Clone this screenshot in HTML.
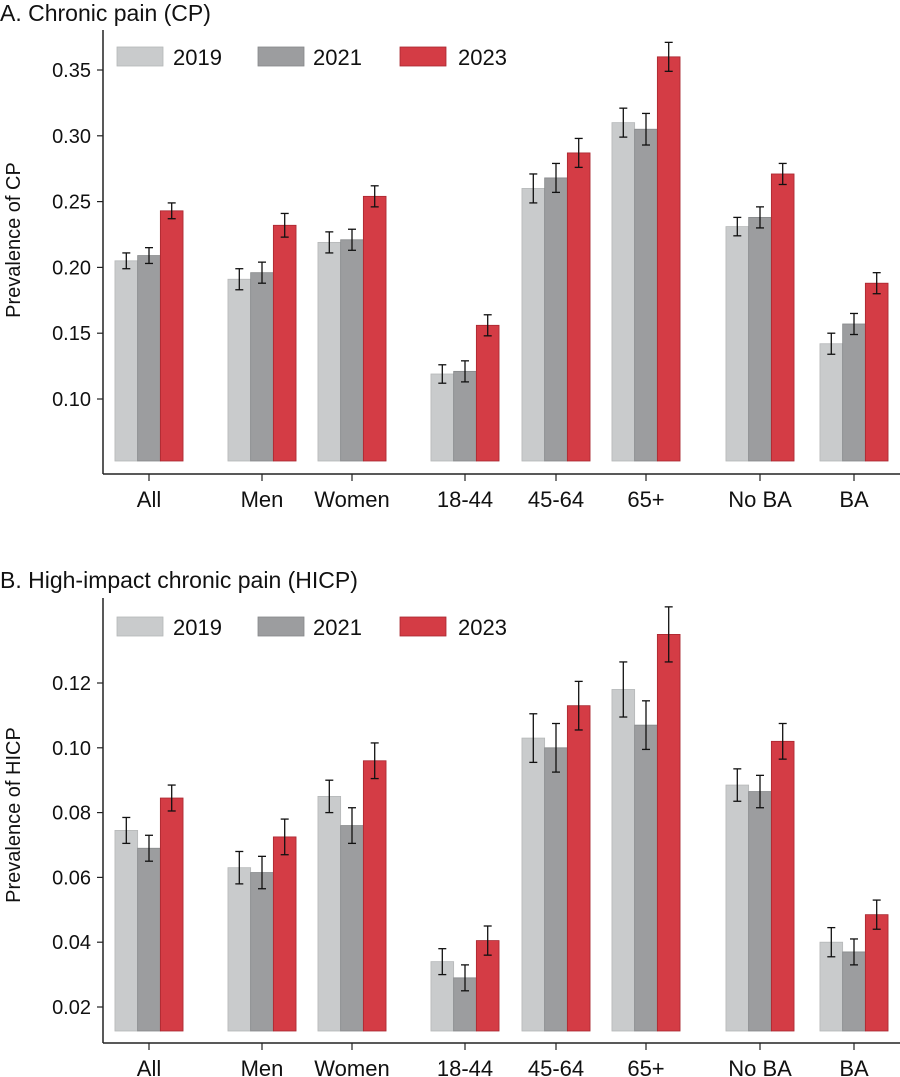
<!DOCTYPE html>
<html><head><meta charset="utf-8"><style>
body{margin:0;background:#fff}
svg{display:block;font-family:"Liberation Sans",Arial,sans-serif}
</style></head><body>
<svg id="chart" width="900" height="1077"></svg>
<script>
const categories=["All","Men","Women","18-44","45-64","65+","No BA","BA"];
const years=["2019","2021","2023"];
const cpValues=[[.205,.191,.219,.119,.260,.310,.231,.142],[.209,.196,.221,.121,.268,.305,.238,.157],[.243,.232,.254,.156,.287,.360,.271,.188]];
const cpErrors=[[.006,.008,.008,.007,.011,.011,.007,.008],[.006,.008,.008,.008,.011,.012,.008,.008],[.006,.009,.008,.008,.011,.011,.008,.008]];
const hicpValues=[[.0745,.063,.085,.034,.103,.118,.0885,.040],[.069,.0615,.076,.029,.100,.107,.0865,.037],[.0845,.0725,.096,.0405,.113,.135,.102,.0485]];
const hicpErrors=[[.004,.005,.005,.004,.0075,.0085,.005,.0045],[.004,.005,.0055,.004,.0075,.0075,.005,.004],[.004,.0055,.0055,.0045,.0075,.0085,.0055,.0045]];
const cpTicks=[0.10,0.15,0.20,0.25,0.30,0.35];
const hicpTicks=[0.02,0.04,0.06,0.08,0.10,0.12];
const groupCenters=[149,262,352,465,556,646,760,854];
const NS="http://www.w3.org/2000/svg";
const svg=document.getElementById('chart');
const fills=["#c9cbcc","#9c9d9f","#d43c45"];
const strokes=["#b5b7b8","#86888a","#a8262f"];
function mk(t,a,p){const e=document.createElementNS(NS,t);for(const k in a)e.setAttribute(k,a[k]);(p||svg).appendChild(e);return e;}
function panel(cfg){
  const g=mk('g',{});
  
  
  const y=v=>cfg.y0-(v-cfg.v0)*cfg.scale;
  const t=mk('text',{x:0,y:cfg.titleY,'font-size':23,fill:'#111'},g);t.textContent=cfg.title;
  
  mk('line',{x1:103,x2:103,y1:cfg.axTop,y2:cfg.axisY,stroke:'#222','stroke-width':1.5},g);
  mk('line',{x1:103,x2:900,y1:cfg.axisY,y2:cfg.axisY,stroke:'#222','stroke-width':1.5},g);
  cfg.ticks.forEach(v=>{
    mk('line',{x1:97,x2:103,y1:y(v),y2:y(v),stroke:'#222','stroke-width':1.2},g);
    const l=mk('text',{x:91,y:y(v)+7,'font-size':20,'text-anchor':'end',fill:'#111'},g);l.textContent=v.toFixed(2);
    
  });
  const yt=mk('text',{x:0,y:0,'font-size':20,'text-anchor':'middle',fill:'#111',transform:`translate(20,${cfg.ylabY}) rotate(-90)`},g);yt.textContent=cfg.ylab;
  
  const bw=22.7;
  categories.forEach((c,i)=>{
    const cx=groupCenters[i];
    mk('line',{x1:cx,x2:cx,y1:cfg.axisY,y2:cfg.axisY+7,stroke:'#222','stroke-width':1.2},g);
    const l=mk('text',{x:cx,y:cfg.axisY+33,'font-size':22,'text-anchor':'middle',fill:'#111'},g);l.textContent=c;
    
    for(let s=0;s<3;s++){
      const v=cfg.vals[s][i],e=cfg.errs[s][i];
      const x=cx-1.5*bw+s*bw;
      const b=mk('rect',{x:x,y:y(v),width:bw,height:cfg.barBottom-y(v),fill:fills[s],stroke:strokes[s],'stroke-width':0.8},g);
      
      const m=x+bw/2;
      mk('line',{x1:m,x2:m,y1:y(v+e),y2:y(v-e),stroke:'#111','stroke-width':1.3},g);
      mk('line',{x1:m-4,x2:m+4,y1:y(v+e),y2:y(v+e),stroke:'#111','stroke-width':1.3},g);
      mk('line',{x1:m-4,x2:m+4,y1:y(v-e),y2:y(v-e),stroke:'#111','stroke-width':1.3},g);
    }
  });
  const lx=[117,258,400],tx=[173,313,458];
  years.forEach((yr,s)=>{
    const r=mk('rect',{x:lx[s],y:cfg.legY,width:46,height:19,fill:fills[s],stroke:strokes[s],'stroke-width':0.8},g);
    
    const l=mk('text',{x:tx[s],y:cfg.legY+18,'font-size':22,fill:'#111'},g);l.textContent=yr;
    
  });
}
panel({name:'panel-a-cp',title:'A. Chronic pain (CP)',titleY:21,vals:cpValues,errs:cpErrors,ticks:cpTicks,y0:399,v0:0.10,scale:1316,barBottom:461,axisY:474,axTop:30,ylab:'Prevalence of CP',ylabY:240,legY:47});
panel({name:'panel-b-hicp',title:'B. High-impact chronic pain (HICP)',titleY:588,vals:hicpValues,errs:hicpErrors,ticks:hicpTicks,y0:1007,v0:0.02,scale:3240,barBottom:1031,axisY:1043,axTop:598,ylab:'Prevalence of HICP',ylabY:815,legY:617});
</script>
</body></html>
